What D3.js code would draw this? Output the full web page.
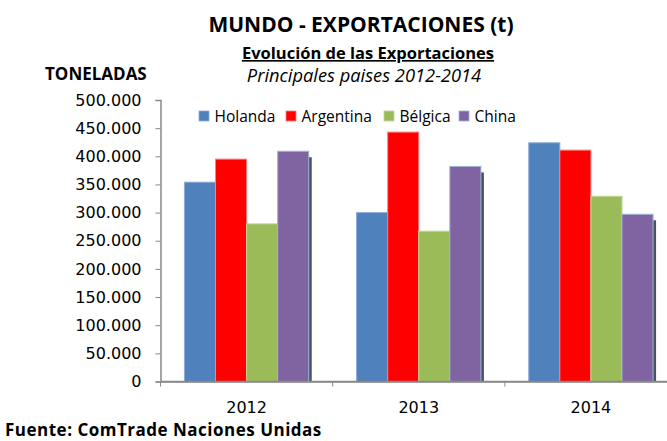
<!DOCTYPE html>
<html>
<head>
<meta charset="utf-8">
<script src="https://cdn.jsdelivr.net/npm/d3@7"></script>
<style>
  html, body { margin: 0; padding: 0; background: #fff; }
  svg { display: block; }
</style>
</head>
<body>
<svg id="chart" width="667" height="441"></svg>
<script>
const years = ["2012", "2013", "2014"];
const seriesNames = ["Holanda", "Argentina", "Bélgica", "China"];
const holanda   = [354000, 300000, 424000];
const argentina = [395000, 443000, 411000];
const belgica   = [280000, 267000, 329000];
const china     = [409000, 382000, 297000];
const yTicks = [0, 50000, 100000, 150000, 200000, 250000, 300000, 350000, 400000, 450000, 500000];

const seriesValues = [holanda, argentina, belgica, china];
const colors = ["#4F81BD", "#FF0000", "#9BBB59", "#8064A2"];
const borders = ["#8EAAD8", "#FF7F7F", "#C3D69B", "#9DB4DA"];

const svg = d3.select("#chart");
const margin = { left: 160.5, right: -10, top: 100, bottom: 59.5 };
const W = 667, H = 441;

const x0 = d3.scaleBand().domain(years).range([margin.left, W - margin.right]).paddingInner(0).paddingOuter(0);
const x1 = d3.scaleBand().domain(seriesNames).range([0, x0.bandwidth()]).paddingOuter(0.77).paddingInner(0);
const y = d3.scaleLinear().domain([0, 500000]).range([H - margin.bottom, margin.top]);

const fmt = v => v === 0 ? "0" : d3.format(",")(v).replace(/,/g, ".");

// Titles
svg.append("text").attr("x", 361).attr("y", 32).attr("text-anchor", "middle")
  .attr("font-family", "Open Sans, sans-serif").attr("font-weight", "bold").attr("font-size", 21)
  .attr("fill", "#000").text("MUNDO - EXPORTACIONES (t)");
svg.append("text").attr("x", 368).attr("y", 59).attr("text-anchor", "middle")
  .attr("font-family", "Open Sans, sans-serif").attr("font-weight", "bold").attr("font-size", 16.5)
  .attr("text-decoration", "underline").attr("fill", "#000").text("Evolución de las Exportaciones");
svg.append("text").attr("x", 364).attr("y", 82).attr("text-anchor", "middle")
  .attr("font-family", "Open Sans, sans-serif").attr("font-style", "italic").attr("font-size", 18.3)
  .attr("fill", "#000").text("Principales paises 2012-2014");
svg.append("text").attr("x", 45).attr("y", 80)
  .attr("font-family", "Open Sans, sans-serif").attr("font-weight", "bold").attr("font-size", 17)
  .attr("fill", "#000").text("TONELADAS");

// Y axis
const yAxis = d3.axisLeft(y).tickValues(yTicks).tickFormat(fmt).tickSize(5).tickPadding(14);
const gy = svg.append("g").attr("transform", `translate(${margin.left},0)`).call(yAxis);
gy.select(".domain").attr("stroke", "#888").attr("stroke-width", 1.5);
gy.selectAll(".tick line").attr("stroke", "#888");
gy.selectAll(".tick text").attr("font-family", "DejaVu Sans, sans-serif").attr("font-size", 16).attr("fill", "#000");

// X axis
const xAxis = d3.axisBottom(x0).tickSize(5).tickPadding(15).tickSizeOuter(0);
const gx = svg.append("g").attr("transform", `translate(0,${y(0)})`).call(xAxis);
gx.select(".domain").attr("stroke", "#888").attr("stroke-width", 1.5);
gx.selectAll(".tick line").remove();
gx.selectAll(".tick text").attr("font-family", "DejaVu Sans, sans-serif").attr("font-size", 16).attr("fill", "#000");
const bounds = years.map(yr => x0(yr));
gx.selectAll(".bound").data(bounds).enter().append("line")
  .attr("x1", d => d).attr("x2", d => d).attr("y1", 0).attr("y2", 5)
  .attr("stroke", "#888");

// Bars
const data = [];
years.forEach((yr, i) => seriesNames.forEach((s, j) => data.push({ yr, s, j, v: seriesValues[j][i] })));
const last = seriesNames.length - 1;

const bars = svg.append("g");
bars.selectAll(".shadow").data(data.filter(d => d.j === last)).enter().append("rect")
  .attr("x", d => x0(d.yr) + x1(d.s) + 3)
  .attr("y", d => y(d.v) + 6)
  .attr("width", x1.bandwidth())
  .attr("height", d => y(0) - y(d.v) - 6)
  .attr("fill", "#4a5360");
bars.selectAll(".bar").data(data).enter().append("rect")
  .attr("x", d => x0(d.yr) + x1(d.s))
  .attr("y", d => y(d.v))
  .attr("width", x1.bandwidth())
  .attr("height", d => y(0) - y(d.v))
  .attr("fill", d => colors[d.j])
  .attr("stroke", d => borders[d.j])
  .attr("stroke-width", 1);
svg.append("line").attr("x1", margin.left).attr("x2", W).attr("y1", y(0)).attr("y2", y(0))
  .attr("stroke", "#888").attr("stroke-width", 1.5);

// Legend
const legendX = [199, 286, 384, 459];
const lg = svg.append("g");
seriesNames.forEach((s, j) => {
  lg.append("rect").attr("x", legendX[j]).attr("y", 111).attr("width", 10).attr("height", 10)
    .attr("fill", colors[j]).attr("stroke", borders[j]).attr("stroke-width", 0.8);
  lg.append("text").attr("x", legendX[j] + 15.5).attr("y", 121.5)
    .attr("font-family", "Open Sans, sans-serif").attr("font-size", 15.5).attr("fill", "#000").text(s);
});

// Source
svg.append("text").attr("x", 5).attr("y", 436)
  .attr("font-family", "Open Sans, sans-serif").attr("font-weight", "bold").attr("font-size", 17)
  .attr("letter-spacing", 0.5)
  .attr("fill", "#000").text("Fuente: ComTrade Naciones Unidas");
</script>
</body>
</html>
